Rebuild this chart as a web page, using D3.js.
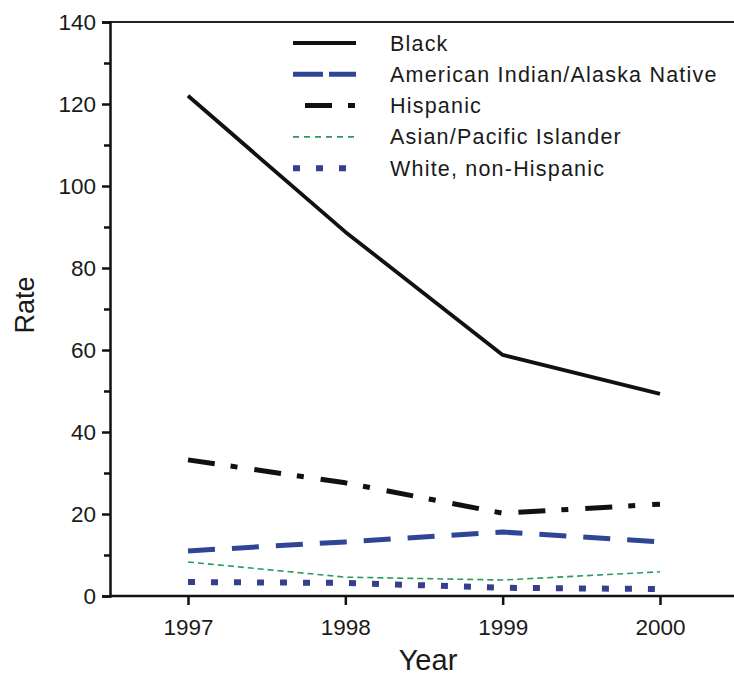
<!DOCTYPE html>
<html><head><meta charset="utf-8">
<script src="https://cdn.jsdelivr.net/npm/d3@7"></script>
<style>body{margin:0;background:#fff}svg{display:block;font-family:"Liberation Sans",Arial,sans-serif}</style>
</head><body><svg id="c" width="734" height="677"></svg>
<script>
const years = [1997, 1998, 1999, 2000];
const black = [122.0, 88.8, 58.8, 49.3];
const aian = [11.0, 13.2, 15.6, 13.2];
const hispanic = [33.2, 27.6, 20.2, 22.4];
const asian = [8.3, 4.6, 3.9, 5.9];
const white = [3.4, 3.2, 2.0, 1.7];
const yTicks = [0, 20, 40, 60, 80, 100, 120, 140];
const yMinorTicks = [10, 30, 50, 70, 90, 110, 130];

const series = [
  {name: "Black", values: black, color: "#111", width: 3.8, dash: null},
  {name: "American Indian/Alaska Native", values: aian, color: "#2f4596", width: 5, dash: "27,17"},
  {name: "Hispanic", values: hispanic, color: "#111", width: 5, dash: "27,16,7,17"},
  {name: "Asian/Pacific Islander", values: asian, color: "#2a9a5c", width: 1.6, dash: "6,4"},
  {name: "White, non-Hispanic", values: white, color: "#353f8e", width: 6, dash: "7,16"}
];

const svg = d3.select("#c");
const L = 110, R = 734, T = 22, B = 596;
const x = d3.scalePoint().domain(years).range([188, 660]);
const y = d3.scaleLinear().domain([0, 140]).range([B, T]);

svg.append("line").attr("x1", L).attr("x2", R).attr("y1", T).attr("y2", T)
  .attr("stroke", "#222").attr("stroke-width", 2);

const ya = svg.append("g").attr("transform", `translate(${L},0)`)
  .call(d3.axisLeft(y).tickValues(yTicks).tickSize(8).tickPadding(6));
ya.select(".domain").attr("stroke-width", 2.5).attr("stroke", "#111");
ya.selectAll(".tick line").attr("stroke-width", 2.5).attr("stroke", "#111");
ya.selectAll("text").attr("font-size", 22.5).attr("fill", "#1a1a1a");
const ym = svg.append("g").attr("transform", `translate(${L},0)`)
  .call(d3.axisLeft(y).tickValues(yMinorTicks).tickSize(6).tickFormat(""));
ym.select(".domain").remove();
ym.selectAll(".tick line").attr("stroke-width", 2.5).attr("stroke", "#111");

const xa = svg.append("g").attr("transform", `translate(0,${B})`)
  .call(d3.axisBottom(x).tickSize(9).tickPadding(14).tickFormat(d3.format("d")));
xa.select(".domain").attr("d", `M${L},0H${R}`).attr("stroke-width", 2.5).attr("stroke", "#111");
xa.selectAll(".tick line").attr("stroke-width", 2.5).attr("stroke", "#111");
xa.selectAll("text").attr("font-size", 22.5).attr("fill", "#1a1a1a");

svg.append("text").attr("x", 428).attr("y", 670).attr("text-anchor", "middle")
  .attr("font-size", 29).attr("fill", "#1a1a1a").text("Year");
svg.append("text").attr("transform", "translate(34,305) rotate(-90)").attr("text-anchor", "middle")
  .attr("font-size", 27).attr("fill", "#1a1a1a").text("Rate");

const line = d3.line().x((d, i) => x(years[i])).y(d => y(d));
series.forEach(s => {
  svg.append("path").datum(s.values).attr("d", line)
    .attr("fill", "none").attr("stroke", s.color).attr("stroke-width", s.width)
    .attr("stroke-dasharray", s.dash).attr("stroke-linejoin", "round");
});

const lg = svg.append("g");
series.forEach((s, i) => {
  const yy = 43 + i * 31.3;
  lg.append("line").attr("x1", 293).attr("x2", 356).attr("y1", yy).attr("y2", yy)
    .attr("stroke", s.color).attr("stroke-width", s.width)
    .attr("stroke-dasharray", i === 1 ? "30,6" : i === 2 ? "0,12,27,16,7,40" : i === 3 ? "6,5" : s.dash);
  lg.append("text").attr("x", 390).attr("y", yy + 7.5).attr("font-size", 21.5)
    .attr("letter-spacing", 1.2).attr("fill", "#1a1a1a").text(s.name);
});
</script></body></html>
